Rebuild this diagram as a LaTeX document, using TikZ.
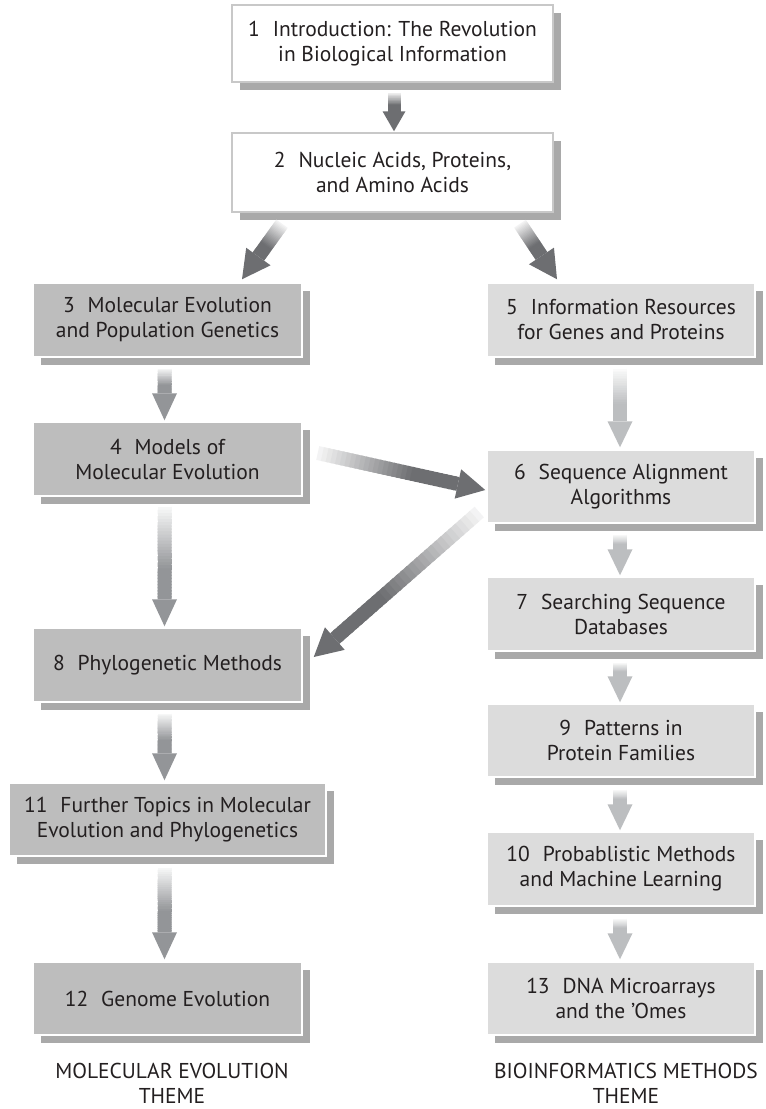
\documentclass[tikz,border=0pt]{standalone}
\usepackage{fontspec}
\setmainfont{PT Sans}
\usetikzlibrary{calc,shadows}
\definecolor{arrdark}{HTML}{6D6E71}
\definecolor{arrmid}{HTML}{939598}
\definecolor{arrlight}{HTML}{BCBEC0}
\definecolor{boxmid}{HTML}{BDBDBD}
\definecolor{boxlight}{HTML}{DCDCDC}
\definecolor{shadowc}{HTML}{A9A9A9}
\definecolor{borderc}{HTML}{C8C8C8}
\definecolor{textc}{HTML}{231F20}
\newcommand\nsp{\hspace{0.6em}}
\newcommand\grarrow[6]{% start, tip, colour, shaft width, head half width, head length
  \coordinate (gaS) at #1;
  \coordinate (gaT) at #2;
  \coordinate (gaE) at ($(gaT)!#6!(gaS)$);
  \foreach \i in {0,...,29}{
    \pgfmathsetmacro\pc{min(100,8+135*\i/29)}
    \pgfmathsetmacro\ta{\i/30}
    \pgfmathsetmacro\tb{min(1,(\i+1.5)/30)}
    \draw[line width=#4, draw=#3!\pc!white] ($(gaS)!\ta!(gaE)$) -- ($(gaS)!\tb!(gaE)$);
  }
  \fill[#3] (gaT) -- ($(gaE)!#5!90:(gaT)$) -- ($(gaE)!#5!-90:(gaT)$) -- cycle;
}
\begin{document}
\begin{tikzpicture}[x=1pt,y=-1pt,
  txt/.style={font=\fontsize{21.5}{25}\selectfont, text=textc, align=center, inner sep=0pt},
  basebox/.style={txt, rectangle, line width=1.5pt,
    drop shadow={shadow xshift=8pt, shadow yshift=-8pt, fill=shadowc, opacity=1}},
  topbox/.style={basebox, draw=borderc, fill=white, minimum width=321pt},
  leftbox/.style={basebox, draw=white, fill=boxmid, minimum width=269pt},
  rightbox/.style={basebox, draw=white, fill=boxlight, minimum width=268pt},
  themetxt/.style={txt}
]
\fill[white] (0,0) rectangle (766,1109);
\useasboundingbox (0,0) rectangle (766,1109);

\node[topbox, minimum height=77pt] (b1) at (392.5,43.5) {1\nsp Introduction: The Revolution\\in Biological Information};
\node[topbox, minimum height=79pt] (b2) at (392.5,172.5) {2\nsp Nucleic Acids, Proteins,\\and Amino Acids};

\node[leftbox, minimum height=74pt] (b3) at (167.5,320) {3\nsp Molecular Evolution\\and Population Genetics};
\node[leftbox, minimum height=74pt] (b4) at (167.5,459) {4\nsp Models of\\Molecular Evolution};
\node[leftbox, minimum height=74pt] (b8) at (167.5,665) {8\nsp Phylogenetic Methods};
\node[leftbox, minimum height=73pt, minimum width=317pt] (b11) at (167.5,819.5) {11\nsp Further Topics in Molecular\\Evolution and Phylogenetics};
\node[leftbox, minimum height=73pt] (b12) at (167.5,998.5) {12\nsp Genome Evolution};

\node[rightbox, minimum height=74pt] (b5) at (621,320) {5\nsp Information Resources\\for Genes and Proteins};
\node[rightbox, minimum height=73pt] (b6) at (621,486.5) {6\nsp Sequence Alignment\\Algorithms};
\node[rightbox, minimum height=74pt] (b7) at (621,614) {7\nsp Searching Sequence\\Databases};
\node[rightbox, minimum height=73pt] (b9) at (621,740.5) {9\nsp Patterns in\\Protein Families};
\node[rightbox, minimum height=74pt] (b10) at (621,869) {10\nsp Probablistic Methods\\and Machine Learning};
\node[rightbox, minimum height=73pt] (b13) at (621,998.5) {13\nsp DNA Microarrays\\and the {\char"27}Omes};

\node[themetxt] (t1) at (172,1083) {MOLECULAR EVOLUTION\\THEME};
\node[themetxt] (t2) at (626,1083) {BIOINFORMATICS METHODS\\THEME};

% arrows
\grarrow{($(b1.south)+(1.5,10)$)}{($(b2.north)+(1.5,-1)$)}{arrdark}{13pt}{11.5pt}{20pt}
\grarrow{($(b2.south)+(-110.5,11)$)}{($(b3.north)+(74.5,-3)$)}{arrdark}{14pt}{15pt}{28pt}
\grarrow{($(b2.south)+(127.5,11)$)}{($(b5.north)+(-64,-3)$)}{arrdark}{14pt}{15pt}{28pt}
\grarrow{($(b4.east)+(15,-6)$)}{($(b6.west)+(-1,3.5)$)}{arrdark}{14pt}{15pt}{28pt}
\grarrow{($(b6.west)+(-7,25.5)$)}{($(b8.east)+(11,-8)$)}{arrdark}{14pt}{15pt}{28pt}

\grarrow{($(b3.south)+(-3,11)$)}{($(b4.north)+(-3,-1)$)}{arrmid}{14pt}{12.5pt}{27pt}
\grarrow{($(b4.south)+(-3,10)$)}{($(b8.north)+(-3,-1)$)}{arrmid}{14pt}{12.5pt}{27pt}
\grarrow{($(b8.south)+(-3,11)$)}{($(b11.north)+(-3,-2)$)}{arrmid}{14pt}{12.5pt}{27pt}
\grarrow{($(b11.south)+(-3,11)$)}{($(b12.north)+(-3,-2)$)}{arrmid}{14pt}{12.5pt}{27pt}

\grarrow{($(b5.south)+(-1,11)$)}{($(b6.north)+(-1,-2)$)}{arrlight}{14pt}{12.5pt}{26pt}
\grarrow{($(b6.south)+(-1,11)$)}{($(b7.north)+(-1,-1)$)}{arrlight}{14pt}{12.5pt}{26pt}
\grarrow{($(b7.south)+(-1,11)$)}{($(b9.north)+(-1,-1)$)}{arrlight}{14pt}{12.5pt}{26pt}
\grarrow{($(b9.south)+(-1,12)$)}{($(b10.north)+(-1,-1)$)}{arrlight}{14pt}{12.5pt}{26pt}
\grarrow{($(b10.south)+(-1,12)$)}{($(b13.north)+(-1,-2)$)}{arrlight}{14pt}{12.5pt}{26pt}
\end{tikzpicture}
\end{document}
